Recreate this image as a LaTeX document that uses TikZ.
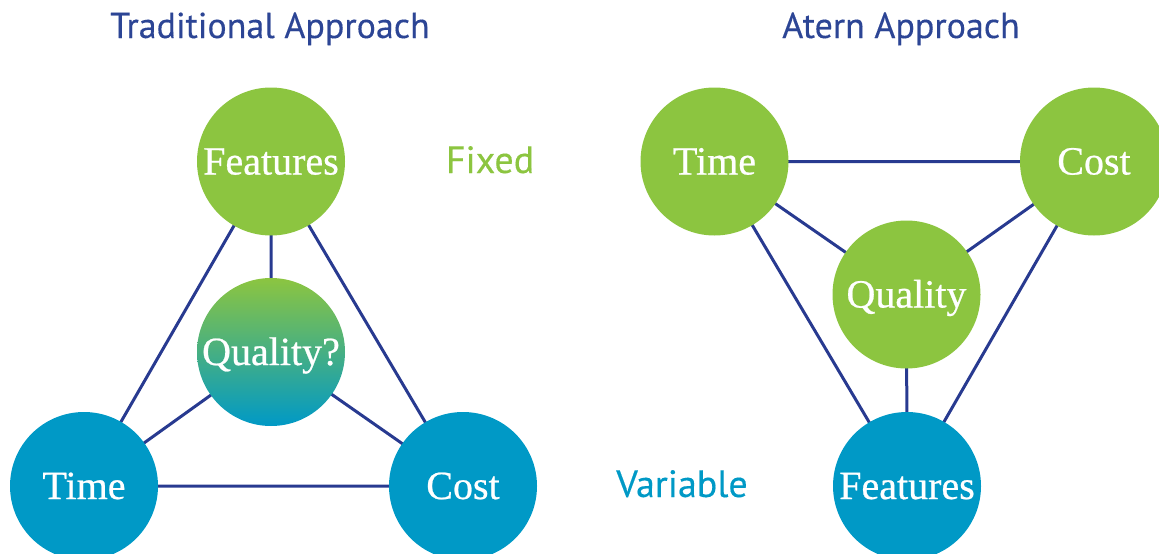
\documentclass[tikz,border=0pt]{standalone}
\usepackage{fontspec}
\setmainfont{Liberation Serif}
\newfontfamily\ballfont[FakeBold=0.6]{Liberation Serif}
\newfontfamily\labelfont[FakeBold=0.3]{PT Sans}
\definecolor{dgreen}{HTML}{8CC540}
\definecolor{dblue}{HTML}{0099C6}
\definecolor{navy}{HTML}{283A90}
\definecolor{titleblue}{HTML}{2C4595}
\begin{document}
\begin{tikzpicture}[x=1pt,y=-1pt,
  ball/.style={circle,minimum size=148pt,inner sep=0pt,text=white,
     font=\ballfont\fontsize{40}{40}\selectfont,text height=26pt,text depth=0pt},
  gball/.style={ball,fill=dgreen},
  bball/.style={ball,fill=dblue},
  link/.style={navy,line width=3pt},
  ttl/.style={text=titleblue,font=\labelfont\fontsize{36}{36}\selectfont,anchor=base,inner sep=0pt},
  lbl/.style={font=\labelfont\fontsize{38}{38}\selectfont,anchor=base,inner sep=0pt}]
\useasboundingbox (0,0) rectangle (1159,554);
\node[ttl] (t1) at (270,38) {Traditional Approach};
\node[ttl] (t2) at (901,38) {Atern Approach};
\node[lbl,text=dgreen] (fixed) at (490,173) {Fixed};
\node[lbl,text=dblue] (var) at (682,497) {Variable};
% Traditional
\coordinate (tf) at (271,161.5);
\coordinate (tq) at (271,352);
\coordinate (tt) at (84,486);
\coordinate (tc) at (463,486);
\draw[link] (tf) -- (tt) (tf) -- (tc) (tf) -- (tq) (tq) -- (tt) (tq) -- (tc) (tt) -- (tc);
\node[gball] (TF) at (tf) {Features};
\node[bball] (TT) at (tt) {Time};
\node[bball] (TC) at (tc) {Cost};
\node[ball,top color=dgreen,bottom color=dblue,middle color=dgreen!50!dblue,shading angle=0] (TQ) at (tq) {Quality?};
% Atern
\coordinate (at) at (714.5,161.5);
\coordinate (ac) at (1094,161.5);
\coordinate (aq) at (906.5,294.5);
\coordinate (af) at (907,486);
\draw[link] (at) -- (ac) (at) -- (aq) (ac) -- (aq) (at) -- (af) (ac) -- (af) (aq) -- (af);
\node[gball] (AT) at (at) {Time};
\node[gball] (AC) at (ac) {Cost};
\node[gball] (AQ) at (aq) {Quality};
\node[bball] (AF) at (af) {Features};
\end{tikzpicture}
\end{document}
